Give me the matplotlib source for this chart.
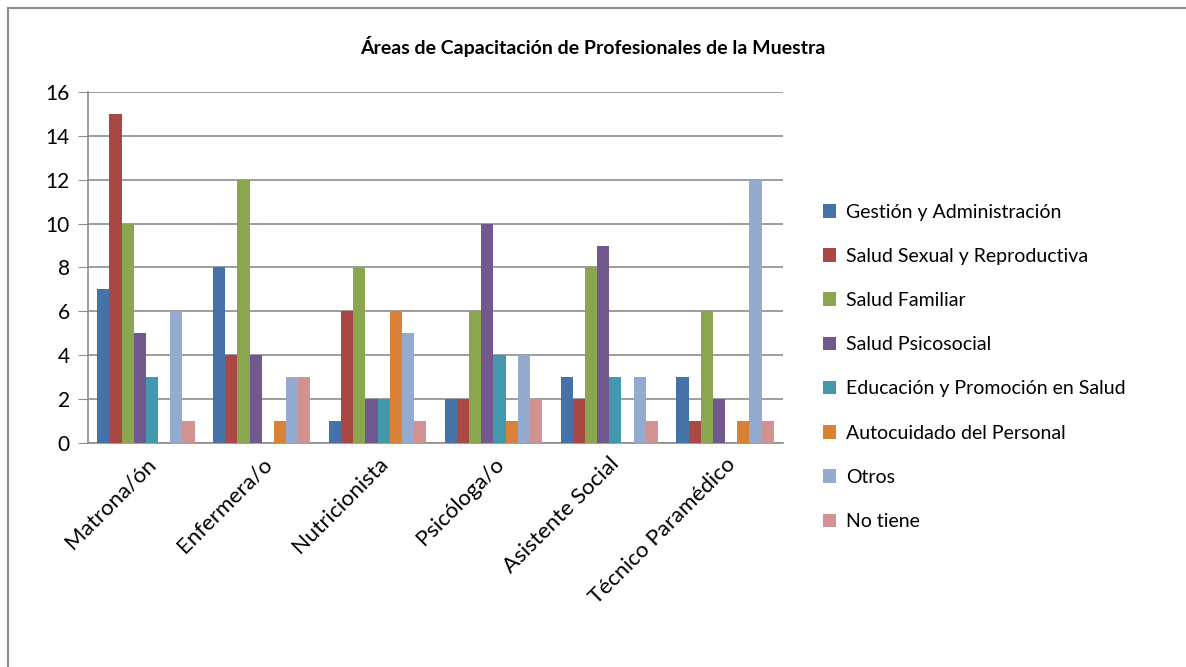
import numpy as np
import matplotlib
matplotlib.use('Agg')
import matplotlib.pyplot as plt
from matplotlib.patches import Rectangle

plt.rcParams['font.family'] = ['Lato', 'DejaVu Sans']

# Datos
profesiones = ['Matrona/ón', 'Enfermera/o', 'Nutricionista', 'Psicóloga/o',
               'Asistente Social', 'Técnico Paramédico']
areas = ['Gestión y Administración', 'Salud Sexual y Reproductiva', 'Salud Familiar',
         'Salud Psicosocial', 'Educación y Promoción en Salud',
         'Autocuidado del Personal', 'Otros', 'No tiene']

gestion = [7, 8, 1, 2, 3, 3]
sexual = [15, 4, 6, 2, 2, 1]
familiar = [10, 12, 8, 6, 8, 6]
psicosocial = [5, 4, 2, 10, 9, 2]
educacion = [3, 0, 2, 4, 3, 0]
autocuidado = [0, 1, 6, 1, 0, 1]
otros = [6, 3, 5, 4, 3, 12]
no_tiene = [1, 3, 1, 2, 1, 1]

series = [gestion, sexual, familiar, psicosocial, educacion, autocuidado, otros, no_tiene]
colores = ['#4573A7', '#A84743', '#8AA64F', '#71598F', '#4398AE', '#DA8138', '#95AACF', '#D19391']

fig = plt.figure(figsize=(11.86, 6.67), dpi=100)
ax = fig.add_axes([0.0742, 0.336, 0.586, 0.526])

# borde del gráfico
fig.patches.append(Rectangle((0.007, -0.01), 1.0, 0.998, transform=fig.transFigure,
                             fill=False, edgecolor='#8c8c8c', linewidth=1.5))

x = np.arange(len(profesiones))
ancho = 0.105
for i, (vals, c) in enumerate(zip(series, colores)):
    ax.bar(x + (i - 3.5) * ancho, vals, ancho, color=c, label=areas[i], zorder=3)

ax.set_xlim(-0.5, len(profesiones) - 0.5)
ax.set_ylim(0, 16)
ax.set_yticks(range(0, 17, 2))
ax.yaxis.grid(True, color='#8c8c8c', linewidth=1.2, zorder=0)
ax.tick_params(axis='y', labelsize=15, length=7, color='#8c8c8c', pad=6)
ax.tick_params(axis='x', length=0, labelsize=16, pad=8)
ax.set_xticks(x)
ax.set_xticklabels(profesiones, rotation=45, ha='right', rotation_mode='anchor')
for s in ['top', 'right']:
    ax.spines[s].set_visible(False)
ax.spines['left'].set_color('#8c8c8c')
ax.spines['bottom'].set_color('#8c8c8c')
ax.spines['left'].set_linewidth(1.2)
ax.spines['bottom'].set_linewidth(1.2)

fig.text(0.5, 0.93, 'Áreas de Capacitación de Profesionales de la Muestra',
         ha='center', va='center', fontsize=14, fontweight='bold')

fig.legend(loc='upper left', bbox_to_anchor=(0.679, 0.721), frameon=False,
           fontsize=14, handlelength=0.7, handleheight=0.7, handletextpad=0.5,
           labelspacing=1.4)

fig.savefig('out.png', dpi=100)
